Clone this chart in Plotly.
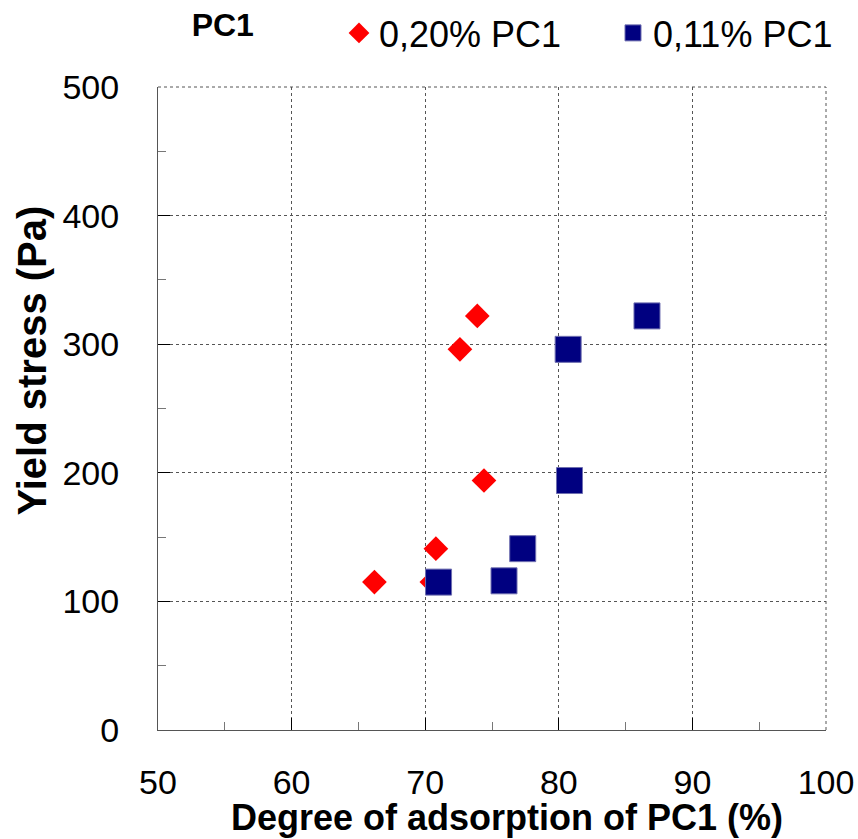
import plotly.graph_objects as go

# Degree of adsorption (%) vs. yield stress (Pa) for two PC1 dosages
ads_020 = [66.2, 70.5, 70.8, 72.6, 73.9, 74.4]
ys_020 = [115, 115, 141, 296, 322, 194]

ads_011 = [71.0, 75.9, 77.3, 80.7, 80.8, 86.6]
ys_011 = [115, 116, 141, 296, 194, 322]

x_ticks = [50, 60, 70, 80, 90, 100]
y_ticks = [0, 100, 200, 300, 400, 500]

FONT = "Liberation Sans, Arial, sans-serif"

fig = go.Figure()
fig.add_trace(go.Scatter(
    x=ads_020, y=ys_020, mode="markers", name="0,20% PC1", legend="legend",
    marker=dict(symbol="diamond", size=19, color="#FF0000", line=dict(width=0)),
))
fig.add_trace(go.Scatter(
    x=ads_011, y=ys_011, mode="markers", name="0,11% PC1", legend="legend2",
    marker=dict(symbol="square", size=26, color="#000080",
                line=dict(width=1, color="#6f6fb0")),
))

axis_common = dict(
    showline=True, linecolor="#555555", linewidth=1,
    showgrid=True, gridcolor="#555555", gridwidth=1, griddash="dot",
    ticks="inside", ticklen=12, tickcolor="#000000", tickwidth=1,
    zeroline=False, mirror=False,
    tickfont=dict(family=FONT, size=34, color="#000000"),
)

fig.update_xaxes(
    range=[50, 100], tickvals=x_ticks, ticktext=[str(v) for v in x_ticks],
    ticklabelstandoff=22,
    minor=dict(dtick=5, ticks="inside", ticklen=8, tickcolor="#777777", showgrid=False),
    **axis_common,
)
fig.update_yaxes(
    range=[0, 500], tickvals=y_ticks, ticktext=[str(v) for v in y_ticks],
    ticklabelstandoff=31,
    minor=dict(dtick=50, ticks="inside", ticklen=8, tickcolor="#777777", showgrid=False),
    **axis_common,
)

legend_common = dict(
    orientation="h", yanchor="middle", y=1.0840, xanchor="left",
    font=dict(family=FONT, size=36, color="#000000"),
    bgcolor="rgba(0,0,0,0)", itemsizing="trace",
)

# dotted frame along the top and right edges of the plotting area
frame = dict(type="line", xref="paper", yref="paper",
             line=dict(color="#555555", width=1, dash="dot"))

fig.update_layout(
    width=858, height=839,
    margin=dict(l=158, r=32, t=87, b=109, autoexpand=False),
    paper_bgcolor="white", plot_bgcolor="white",
    font=dict(family=FONT, color="#000000"),
    showlegend=True,
    legend=dict(x=(339 - 158) / 668, **legend_common),
    legend2=dict(x=(613 - 158) / 668, **legend_common),
    shapes=[
        dict(x0=0, x1=1, y0=1, y1=1, **frame),
        dict(x0=1, x1=1, y0=0, y1=1, **frame),
    ],
    title=dict(
        text="<b>PC1</b>", x=0.097, xref="paper", xanchor="center",
        y=1 - 25 / 839, yref="container", yanchor="middle",
        font=dict(family=FONT, size=32, color="#000000"),
    ),
    annotations=[
        dict(text="<b>Degree of adsorption of PC1 (%)</b>", xref="paper", yref="paper",
             x=0.5225, y=-0.1360, xanchor="center", yanchor="middle", showarrow=False,
             font=dict(family=FONT, size=36, color="#000000")),
        dict(text="<b>Yield stress (Pa)</b>", xref="paper", yref="paper",
             x=-0.188, y=0.5754, xanchor="center", yanchor="middle", showarrow=False,
             textangle=-90, font=dict(family=FONT, size=40, color="#000000")),
    ],
)

fig.write_html("out.html")
